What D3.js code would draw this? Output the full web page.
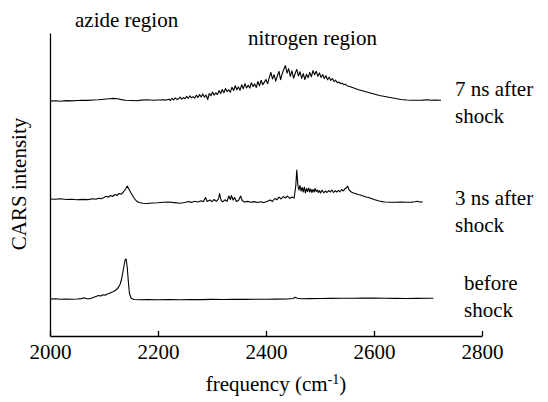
<!DOCTYPE html>
<html>
  <head>
    <meta charset="utf-8" />
    <title>CARS spectra</title>
    <script src="https://d3js.org/d3.v7.min.js"></script>
  </head>
  <body style="margin: 0; background: #fff">
    <script>
      var FONT = '"Liberation Serif"';

      // frequency ticks (cm-1)
      var xTicks = [2000, 2200, 2400, 2600, 2800];

      // trace baselines, in intensity units above the x axis
      var offsets = { before: 37, ns3: 137, ns7: 235 };

      // before shock: [frequency, height above baseline]
      var beforeShock = [
        [2000, 0], [2010, 0.2], [2020, -0.2], [2030, 0], [2040, -0.3], [2050, 0], [2058, 0.4], [2063, 1.2],
        [2068, 0.3], [2074, 0.2], [2080, 1.5], [2085, 2.5], [2090, 3.5], [2094, 3], [2098, 4.2], [2102, 3.8],
        [2106, 5], [2110, 5.5], [2114, 6.8], [2118, 7.5], [2122, 9], [2126, 11], [2130, 15], [2133, 21],
        [2136, 30], [2139, 39], [2141, 40], [2143, 32], [2145, 18], [2147, 6], [2150, 1], [2155, -0.5],
        [2165, -0.8], [2180, -0.6], [2200, -0.8], [2220, -0.6], [2240, -0.7], [2260, -0.5], [2280, -0.6],
        [2300, -0.4], [2320, -0.5], [2340, -0.3], [2360, -0.4], [2380, -0.2], [2400, -0.3], [2420, -0.1],
        [2440, 0], [2450, 0.5], [2454, 1.8], [2458, 0.8], [2465, 0.2], [2480, 0.4], [2500, 0.5], [2520, 0.6],
        [2540, 0.8], [2560, 0.7], [2580, 0.9], [2600, 1], [2620, 0.8], [2640, 0.6], [2660, 0.5], [2680, 0.6],
        [2700, 0.7], [2710, 0.7]
      ];

      // 3 ns after shock
      var after3ns = [
        [2000, 0], [2010, -0.3], [2020, 0.2], [2030, -0.5], [2040, -0.2], [2050, -0.8], [2060, -0.4], [2070, -0.6],
        [2080, 0.2], [2085, -0.3], [2090, 0.8], [2095, 0.3], [2100, 1.5], [2104, 2.8], [2108, 1.8], [2112, 3.5],
        [2116, 2.5], [2120, 4.5], [2124, 3.5], [2128, 5.5], [2132, 4.8], [2136, 7], [2140, 10], [2143, 13],
        [2146, 10], [2150, 6], [2155, 1.5], [2160, -2], [2165, -3.5], [2172, -4.2], [2180, -4.5], [2190, -4],
        [2200, -3.8], [2210, -3.2], [2220, -3], [2230, -3.6], [2240, -4.2], [2250, -3.5], [2256, -2.5],
        [2262, -3.4], [2268, -2.2], [2274, -3], [2280, -1.8], [2284, -2.8], [2288, 1.5], [2291, -2.5],
        [2296, -1], [2300, -2.6], [2304, -0.5], [2308, -2.4], [2312, 0], [2314, 5.5], [2317, -1.5],
        [2320, -2.8], [2324, -0.8], [2328, -2.4], [2331, 3], [2334, -0.5], [2336, 3.5], [2339, -1],
        [2342, 1.5], [2345, -2.5], [2349, -1.5], [2353, 3], [2356, -1.5], [2360, -3], [2366, -2.4],
        [2372, -3.3], [2378, -2.6], [2384, -3.5], [2390, -2.8], [2396, -3.6], [2402, -2.5], [2408, -1],
        [2412, -2.5], [2416, 0.5], [2420, -0.8], [2424, 1.8], [2428, 0], [2432, 2.5], [2436, 1], [2440, 3],
        [2444, 0.5], [2448, 2], [2452, 1], [2455, 12], [2457, 29], [2459, 14], [2461, 9], [2463, 13.5],
        [2465, 8], [2467, 11.5], [2469, 7], [2471, 12], [2473, 6], [2475, 10.5], [2477, 7.5], [2479, 11],
        [2481, 7], [2483, 10], [2485, 6.5], [2487, 9.5], [2489, 7], [2491, 10.5], [2493, 7.5], [2495, 9],
        [2497, 6.5], [2499, 8.5], [2501, 6], [2504, 8.8], [2507, 6.2], [2510, 8], [2513, 6.5], [2516, 8.5],
        [2519, 7], [2522, 9], [2525, 6.5], [2528, 8.3], [2531, 7], [2534, 8.6], [2537, 7.2], [2540, 9.5],
        [2543, 8], [2546, 10.2], [2549, 11], [2551, 13], [2554, 9], [2558, 7], [2562, 6], [2566, 5.5],
        [2570, 4.5], [2575, 4], [2580, 3], [2585, 2], [2590, 1.5], [2595, 0.5], [2600, -0.5], [2605, -1.2],
        [2610, -2], [2615, -2.6], [2620, -3], [2630, -3.2], [2640, -3.2], [2650, -3.1], [2660, -3.2],
        [2670, -3.1], [2676, -2.8], [2680, -2.3], [2684, -3], [2690, -2.9]
      ];

      // 7 ns after shock
      var after7ns = [
        [2000, 0], [2010, 0.3], [2020, -0.2], [2030, 0.4], [2040, 0.1], [2050, 0.5], [2060, 0.8], [2070, 0.6],
        [2080, 1], [2090, 1.3], [2100, 1.8], [2110, 2.3], [2118, 2.6], [2125, 2.2], [2132, 1.4], [2140, 0.8],
        [2150, 0.5], [2160, 0.3], [2170, 0.9], [2180, 1.2], [2190, 0.8], [2200, 1], [2210, 1.3], [2215, 0.9],
        [2220, 1.8], [2223, 0.5], [2226, 2.6], [2229, 1.2], [2232, 3.1], [2235, 1.6], [2238, 2.2], [2241, 3.8],
        [2244, 1.9], [2247, 3.4], [2250, 2.3], [2253, 4.6], [2256, 2.7], [2259, 5.2], [2262, 3.1], [2265, 4.2],
        [2268, 2.9], [2271, 5.8], [2274, 3.6], [2277, 6.4], [2280, 4], [2283, 7.1], [2286, 3.8], [2289, 6],
        [2292, 1.5], [2295, 7.5], [2298, 5.2], [2301, 9], [2304, 5.8], [2307, 8.2], [2310, 6.5], [2313, 10.4],
        [2316, 7.4], [2319, 11.5], [2322, 8.3], [2325, 12.6], [2328, 9.4], [2331, 11.2], [2334, 8.8],
        [2337, 13.8], [2340, 10.5], [2343, 15.2], [2346, 11.3], [2349, 14.1], [2352, 10.8], [2355, 16.3],
        [2358, 12.2], [2361, 17.4], [2364, 13.1], [2367, 15.8], [2370, 12.9], [2373, 18.3], [2376, 14.4],
        [2379, 17.1], [2382, 13.6], [2385, 19.5], [2388, 15.2], [2391, 20.8], [2394, 16.3], [2397, 18.9],
        [2400, 21.5], [2403, 17.2], [2406, 23.4], [2409, 28.5], [2412, 22.1], [2415, 26.3], [2418, 19.8],
        [2421, 25.2], [2424, 29.6], [2427, 21.4], [2430, 27.3], [2433, 31.8], [2436, 35.5], [2439, 27.9],
        [2442, 32.4], [2445, 24.6], [2448, 30.2], [2451, 22.8], [2454, 27.5], [2457, 31.6], [2460, 25.1],
        [2463, 29.2], [2466, 22.6], [2469, 27.4], [2472, 21.5], [2475, 26.8], [2478, 23.3], [2481, 28.6],
        [2484, 24.2], [2487, 30.4], [2490, 26.2], [2493, 29.8], [2496, 24.7], [2499, 28.1], [2502, 23.6],
        [2505, 26.5], [2508, 22.4], [2511, 25.3], [2514, 21.2], [2517, 23.8], [2520, 20.6], [2523, 22.5],
        [2526, 19.4], [2529, 20.8], [2532, 18.2], [2535, 19.1], [2538, 17.3], [2541, 17.9], [2544, 16.4],
        [2547, 16.8], [2550, 15.3], [2555, 14.5], [2560, 13.5], [2570, 11.5], [2580, 10], [2590, 8.5],
        [2600, 7], [2610, 5.5], [2620, 4.5], [2630, 3.5], [2640, 2.5], [2650, 1.5], [2660, 1], [2670, 0.8],
        [2680, 0.8], [2690, 0.9], [2700, 1.2], [2705, 0.7], [2712, 0.9], [2724, 0.7]
      ];

      var W = 548, H = 402;
      var svg = d3.select('body').append('svg').attr('width', W).attr('height', H);

      var x = d3.scaleLinear().domain([2000, 2800]).range([50, 482]);
      var y = d3.scaleLinear().domain([0, 303]).range([336, 33]);

      // x axis, ticks pointing up
      var gx = svg
        .append('g')
        .attr('transform', 'translate(0,' + y(0) + ')')
        .call(d3.axisBottom(x).tickValues(xTicks).tickSize(-5).tickSizeOuter(0).tickFormat(d3.format('d')));
      gx.selectAll('path, line').attr('stroke', '#000').attr('stroke-width', 1.3);
      gx.selectAll('text')
        .attr('y', 23)
        .attr('dy', 0)
        .attr('fill', '#000')
        .style('font-family', FONT)
        .style('font-size', '21px');

      // y axis, bare line
      var gy = svg
        .append('g')
        .attr('transform', 'translate(' + x(2000) + ',0)')
        .call(d3.axisLeft(y).tickValues([]).tickSizeOuter(0));
      gy.select('.domain').attr('stroke', '#000').attr('stroke-width', 1.3);

      function trace(data, off) {
        return d3
          .line()
          .x(function (d) { return x(d[0]); })
          .y(function (d) { return y(d[1] + off); })(data);
      }

      [[beforeShock, offsets.before], [after3ns, offsets.ns3], [after7ns, offsets.ns7]].forEach(function (t) {
        svg
          .append('path')
          .attr('d', trace(t[0], t[1]))
          .attr('fill', 'none')
          .attr('stroke', '#000')
          .attr('stroke-width', 1.1)
          .attr('stroke-linejoin', 'round');
      });

      function label(lines, lx, ly) {
        var t = svg
          .append('text')
          .attr('x', lx)
          .attr('y', ly)
          .style('font-family', FONT)
          .style('font-size', '21px');
        lines.forEach(function (s, i) {
          t.append('tspan').attr('x', lx).attr('dy', i ? 27 : 0).text(s);
        });
      }

      label(['azide region'], 75, 27);
      label(['nitrogen region'], 248, 45);
      label(['7 ns after', 'shock'], 455, 96);
      label(['3 ns after', 'shock'], 455, 205);
      label(['before', 'shock'], 464, 290);

      // axis titles
      var xt = svg
        .append('text')
        .attr('x', 276)
        .attr('y', 391)
        .attr('text-anchor', 'middle')
        .style('font-family', FONT)
        .style('font-size', '21px');
      xt.append('tspan').text('frequency (cm');
      xt.append('tspan').attr('dy', -7).style('font-size', '14px').text('-1');
      xt.append('tspan').attr('dy', 7).text(')');

      svg
        .append('text')
        .attr('transform', 'translate(26,184) rotate(-90)')
        .attr('text-anchor', 'middle')
        .style('font-family', FONT)
        .style('font-size', '21px')
        .text('CARS intensity');
    </script>
  </body>
</html>
